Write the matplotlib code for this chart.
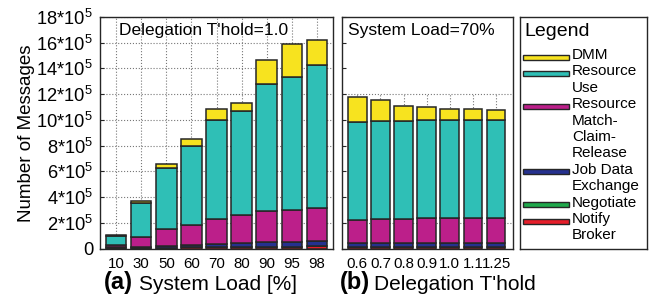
import matplotlib
matplotlib.use("Agg")
import matplotlib.pyplot as plt
import numpy as np
from matplotlib.patches import Rectangle

plt.rcParams['font.family'] = ['Liberation Sans', 'DejaVu Sans']
plt.rcParams['mathtext.fontset'] = 'custom'
plt.rcParams['mathtext.rm'] = 'Liberation Sans'

# values in units of 10^5 messages
load_labels = ['10', '30', '50', '60', '70', '80', '90', '95', '98']
load_notify = [0.01, 0.03, 0.06, 0.08, 0.10, 0.11, 0.13, 0.14, 0.16]
load_negot = [0.00, 0.01, 0.01, 0.01, 0.01, 0.01, 0.01, 0.01, 0.01]
load_jobdata = [0.07, 0.11, 0.13, 0.22, 0.25, 0.28, 0.33, 0.35, 0.38]
load_match = [0.17, 0.73, 1.30, 1.53, 1.95, 2.17, 2.46, 2.51, 2.62]
load_use = [0.75, 2.68, 4.78, 6.12, 7.65, 8.09, 9.87, 10.29, 11.07]
load_dmm = [0.02, 0.15, 0.26, 0.54, 0.88, 0.68, 1.88, 2.60, 2.00]

thold_labels = ['0.6', '0.7', '0.8', '0.9', '1.0', '1.1', '1.25']
thold_notify = [0.11, 0.11, 0.11, 0.11, 0.11, 0.11, 0.11]
thold_negot = [0.01, 0.01, 0.01, 0.01, 0.01, 0.01, 0.01]
thold_jobdata = [0.29, 0.29, 0.29, 0.29, 0.29, 0.29, 0.29]
thold_match = [1.79, 1.87, 1.89, 1.93, 1.95, 1.93, 1.93]
thold_use = [7.67, 7.62, 7.65, 7.63, 7.67, 7.66, 7.66]
thold_dmm = [1.94, 1.62, 1.10, 1.00, 0.81, 0.82, 0.80]

series_names = ['DMM', 'Resource\nUse', 'Resource\nMatch-\nClaim-\nRelease',
                'Job Data\nExchange', 'Negotiate', 'Notify\nBroker']
colors = ['#f7e31f', '#2fbfb6', '#bc1f8a', '#25318f', '#1fa84b', '#e61e2a']

edge = '#262626'
W, H = 660, 300
fig = plt.figure(figsize=(6.6, 3.0), dpi=100)


def pos(x0, x1, y0=17, y1=248.5):
    return [x0 / W, 1 - y1 / H, (x1 - x0) / W, (y1 - y0) / H]


def stack(ax, layers, width):
    x = np.arange(len(layers[0]))
    bottom = np.zeros(len(x))
    # bottom to top: notify, negotiate, job data, match, use, dmm
    for vals, c in zip(layers, colors[::-1]):
        ax.bar(x, vals, width, bottom=bottom, color=c, edgecolor=edge,
               linewidth=1.1, zorder=3)
        bottom = bottom + np.array(vals)
    return x


ax1 = fig.add_axes(pos(100, 333))
x1 = stack(ax1, [load_notify, load_negot, load_jobdata, load_match, load_use, load_dmm], 0.82)
ax1.set_xlim(-0.64, len(x1) - 0.36)
ax1.set_ylim(0, 18)
ax1.set_yticks(range(0, 19, 2))
ax1.set_yticklabels(['0'] + [r'$\mathregular{%d{*}10^5}$' % v for v in range(2, 19, 2)],
                    fontsize=13.2)
ax1.set_xticks(x1)
ax1.set_xticklabels(load_labels, fontsize=10.8)
ax1.grid(True, linestyle=':', color='#777777', linewidth=0.8, zorder=0)
ax1.set_axisbelow(True)
ax1.set_ylabel('Number of Messages', fontsize=13.5, labelpad=1)
ax1.text(0.08, 0.975, "Delegation T'hold=1.0", transform=ax1.transAxes,
         fontsize=12.5, va='top', ha='left')

ax2 = fig.add_axes(pos(342, 513))
x2 = stack(ax2, [thold_notify, thold_negot, thold_jobdata, thold_match, thold_use, thold_dmm], 0.81)
ax2.set_xlim(-0.66, len(x2) - 0.27)
ax2.set_ylim(0, 18)
ax2.set_yticks(range(0, 19, 2))
ax2.set_yticklabels([])
ax2.set_xticks(x2)
ax2.set_xticklabels(thold_labels, fontsize=10.8)
for yv in (2, 12):
    ax2.axhline(yv, linestyle=':', color='#777777', linewidth=0.8, zorder=0)
ax2.vlines(x2, 0, 12, linestyles=':', colors='#777777', linewidth=0.8, zorder=0)
ax2.text(0.035, 0.975, 'System Load=70%', transform=ax2.transAxes,
         fontsize=12.5, va='top', ha='left')

for ax in (ax1, ax2):
    ax.tick_params(axis='y', direction='in', length=3, pad=5, color=edge)
    ax.tick_params(axis='x', length=0, pad=6)
    for s in ax.spines.values():
        s.set_color(edge)
        s.set_linewidth(1.0)

# x labels
fig.text(104 / W, 1 - 283 / H, '(a)', fontsize=17, fontweight='bold', va='center')
fig.text(139 / W, 1 - 284 / H, 'System Load [%]', fontsize=15, va='center')
fig.text(340 / W, 1 - 283 / H, '(b)', fontsize=17, fontweight='bold', va='center')
fig.text(374 / W, 1 - 284 / H, "Delegation T'hold", fontsize=15, va='center')

# legend box
axl = fig.add_axes(pos(520, 647))
axl.set_xlim(520, 647)
axl.set_ylim(248.5, 17)
axl.set_xticks([])
axl.set_yticks([])
for s in axl.spines.values():
    s.set_color(edge)
    s.set_linewidth(1.0)
axl.text(524, 32, 'Legend', fontsize=14, va='center', ha='left')
line = 0
for name, c in zip(series_names, colors):
    yc = 55 + 16.4 * line
    axl.add_patch(Rectangle((523, yc - 0.5), 46, 5, facecolor=c, edgecolor=edge, linewidth=1.0))
    for part in name.split('\n'):
        axl.text(572, 55 + 16.4 * line, part, fontsize=11, va='center', ha='left')
        line += 1

fig.savefig('out.png', dpi=100)
